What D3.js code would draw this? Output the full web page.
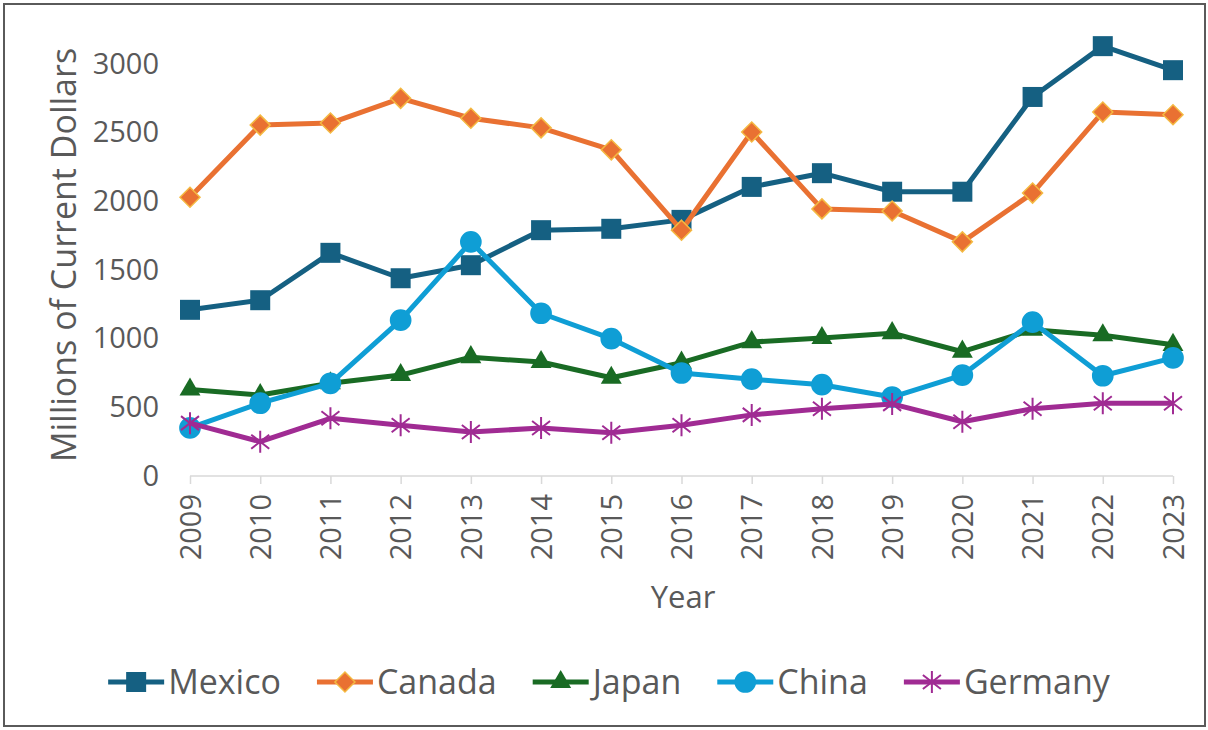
<!DOCTYPE html>
<html>
<head>
<meta charset="utf-8">
<script src="https://cdn.jsdelivr.net/npm/d3@7"></script>
<style>
  body { margin: 0; background: #fff; }
  svg text { font-family: "Open Sans", sans-serif; fill: #595959; }
</style>
</head>
<body>
<svg id="chart" width="1208" height="730"></svg>
<script>
// data
const years = ["2009", "2010", "2011", "2012", "2013", "2014", "2015", "2016", "2017", "2018", "2019", "2020", "2021", "2022", "2023"];
const mexico  = [1210, 1280, 1625, 1440, 1535, 1790, 1800, 1865, 2105, 2205, 2070, 2070, 2760, 3130, 2955];
const canada  = [2030, 2555, 2570, 2750, 2605, 2535, 2375, 1790, 2505, 1945, 1930, 1705, 2060, 2650, 2630];
const japan   = [630, 590, 675, 735, 865, 830, 715, 825, 975, 1005, 1040, 905, 1065, 1025, 955];
const china   = [350, 530, 675, 1135, 1705, 1185, 1000, 750, 705, 665, 575, 735, 1120, 730, 860];
const germany = [385, 250, 420, 370, 320, 350, 315, 370, 445, 490, 525, 395, 490, 530, 530];
const yTicks  = [0, 500, 1000, 1500, 2000, 2500, 3000];

const series = [
  {name: "Mexico",  values: mexico,  color: "#156082", marker: "square"},
  {name: "Canada",  values: canada,  color: "#E97132", marker: "diamond"},
  {name: "Japan",   values: japan,   color: "#196B24", marker: "triangle"},
  {name: "China",   values: china,   color: "#0F9ED5", marker: "circle"},
  {name: "Germany", values: germany, color: "#A02B93", marker: "star"}
];

const svg = d3.select("#chart");

// outer frame
svg.append("rect")
  .attr("x", 4).attr("y", 4).attr("width", 1201).attr("height", 722)
  .attr("fill", "none").attr("stroke", "#5a5a5a").attr("stroke-width", 2);

const x = d3.scalePoint().domain(years).range([190, 1173]);
const y = d3.scaleLinear().domain([0, 3000]).range([476, 64]);

// y axis: labels only
const yAxis = svg.append("g")
  .attr("transform", "translate(159,0)")
  .call(d3.axisLeft(y).tickValues(yTicks).tickFormat(d3.format("d")).tickSize(0).tickPadding(0));
yAxis.select(".domain").remove();
yAxis.selectAll("text")
  .attr("font-size", 29).attr("fill", "#595959").attr("font-family", "Open Sans");

// x axis
const xAxis = svg.append("g")
  .attr("transform", `translate(0,${y(0)})`)
  .call(d3.axisBottom(x).tickSize(8).tickPadding(0));
xAxis.select(".domain").attr("stroke", "#d9d9d9").attr("stroke-width", 1.5)
  .attr("d", `M${x("2009")},0H${x("2023")}`);
xAxis.selectAll(".tick line").attr("stroke", "#d9d9d9").attr("stroke-width", 1.5);
xAxis.selectAll("text")
  .attr("font-size", 29).attr("fill", "#595959").attr("font-family", "Open Sans")
  .attr("transform", "rotate(-90)")
  .attr("text-anchor", "end")
  .attr("x", -18).attr("y", 0).attr("dy", "0.35em");

// axis titles
svg.append("text")
  .attr("transform", "translate(64,255) rotate(-90)")
  .attr("text-anchor", "middle").attr("dy", "0.35em")
  .attr("font-size", 34)
  .text("Millions of Current Dollars");

svg.append("text")
  .attr("x", 683).attr("y", 597)
  .attr("text-anchor", "middle").attr("dy", "0.35em")
  .attr("font-size", 31)
  .text("Year");

// marker drawing
function drawMarker(g, type, color) {
  if (type === "square") {
    g.append("path").attr("d", d3.symbol(d3.symbolSquare, 400)()).attr("fill", color);
  } else if (type === "diamond") {
    g.append("path").attr("d", "M0,-10L10,0L0,10L-10,0Z")
      .attr("fill", color).attr("stroke", "#f4b942").attr("stroke-width", 1.5);
  } else if (type === "triangle") {
    g.append("path").attr("d", d3.symbol(d3.symbolTriangle, 190)()).attr("fill", color);
  } else if (type === "circle") {
    g.append("path").attr("d", d3.symbol(d3.symbolCircle, 370)()).attr("fill", color);
  } else {
    g.append("path").attr("d", "M0,-11V11M-9,-7L9,7M-9,7L9,-7")
      .attr("fill", "none").attr("stroke", color).attr("stroke-width", 2);
  }
}

const line = d3.line().x((d, i) => x(years[i])).y(d => y(d));

series.forEach(s => {
  const g = svg.append("g");
  g.append("path")
    .attr("d", line(s.values))
    .attr("fill", "none").attr("stroke", s.color)
    .attr("stroke-width", 5).attr("stroke-linejoin", "round");
  s.values.forEach((v, i) => {
    const m = g.append("g").attr("transform", `translate(${x(years[i])},${y(v)})`);
    drawMarker(m, s.marker, s.color);
  });
});

// legend
const legend = svg.append("g");
let lx = 0;
series.forEach(s => {
  const item = legend.append("g").attr("transform", `translate(${lx},0)`);
  item.append("line").attr("x1", 0).attr("x2", 56).attr("y1", 0).attr("y2", 0)
    .attr("stroke", s.color).attr("stroke-width", 5);
  const m = item.append("g").attr("transform", "translate(28,0)");
  drawMarker(m, s.marker, s.color);
  const t = item.append("text").attr("x", 60).attr("dy", "0.35em")
    .attr("font-size", 34).text(s.name);
  lx += 60 + t.node().getComputedTextLength() + 36;
});
lx -= 36;
legend.attr("transform", `translate(${609 - lx / 2},682)`);
</script>
</body>
</html>
